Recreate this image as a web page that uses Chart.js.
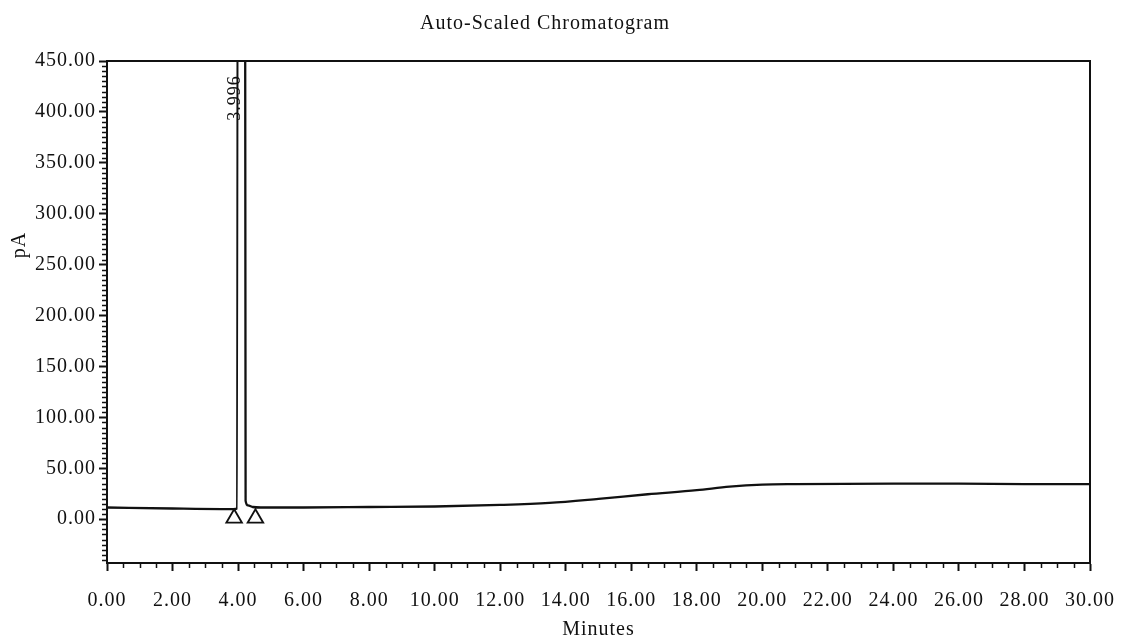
<!DOCTYPE html>
<html>
<head>
<meta charset="utf-8">
<script src="https://cdn.jsdelivr.net/npm/chart.js@4.4.0/dist/chart.umd.min.js"></script>
<style>
  html, body { margin: 0; padding: 0; background: #fff; }
  #wrap { width: 1123px; height: 643px; }
</style>
</head>
<body>
<div id="wrap"><canvas id="myChart" width="1123" height="643"></canvas></div>
<script>
  // signal trace (minutes / pA), peak top is off scale
  var minutes = [0, 2, 3.5, 3.9, 3.96, 4.09, 4.23, 4.3, 4.45, 4.7, 6, 8, 10, 12, 13.5, 15, 16.5, 18, 19, 20, 21, 24, 26, 28, 30];
  var pA = [11.5, 10.5, 10, 10, 10.5, 5000, 18, 13.5, 12, 11.5, 11.5, 12, 12.5, 14, 16, 20, 24.5, 28.5, 32, 34, 34.5, 35, 35, 34.5, 34.5];

  // integration markers
  var markTimes = [3.88, 4.53];
  var markValues = [1, 1];

  // peak annotation
  var peakTimes = [3.996];
  var peakLabels = ['3.996'];

  var xTicks = [0, 2, 4, 6, 8, 10, 12, 14, 16, 18, 20, 22, 24, 26, 28, 30];
  var yTicks = [0, 50, 100, 150, 200, 250, 300, 350, 400, 450];

  var serif = '"Liberation Serif", "Times New Roman", serif';
  var ink = '#111';

  var extras = {
    id: 'extras',
    beforeDraw: function(chart) {
      chart.ctx.letterSpacing = '1px';
    },
    afterDraw: function(chart) {
      var c = chart.ctx, a = chart.chartArea, xs = chart.scales.x, ys = chart.scales.y;
      c.save();
      c.strokeStyle = ink;
      c.lineWidth = 2;
      c.strokeRect(a.left, a.top, a.right - a.left, a.bottom - a.top);

      // minor ticks
      c.lineWidth = 1.5;
      c.beginPath();
      for (var v = -40; v < 450; v += 5) {
        if (v % 50 === 0) continue;
        var py = Math.round(ys.getPixelForValue(v)) + 0.5;
        c.moveTo(a.left - 5, py);
        c.lineTo(a.left, py);
      }
      for (var t = 0.5; t < 30; t += 0.5) {
        if (t % 2 === 0) continue;
        var px = Math.round(xs.getPixelForValue(t)) + 0.5;
        c.moveTo(px, a.bottom);
        c.lineTo(px, a.bottom + 5);
      }
      c.stroke();

      c.fillStyle = ink;
      c.textAlign = 'center';
      c.textBaseline = 'middle';

      // y axis title
      c.font = '20px ' + serif;
      c.save();
      c.translate(20, 245);
      c.rotate(-Math.PI / 2);
      c.fillText('pA', 0, 0);
      c.restore();

      // peak retention time labels
      c.font = '18px ' + serif;
      for (var i = 0; i < peakTimes.length; i++) {
        c.save();
        c.translate(xs.getPixelForValue(peakTimes[i]) - 3, a.top + 37);
        c.rotate(-Math.PI / 2);
        c.fillText(peakLabels[i], 0, 0);
        c.restore();
      }
      c.restore();
    }
  };

  var ctx = document.getElementById('myChart').getContext('2d');
  var chart = new Chart(ctx, {
    type: 'line',
    data: {
      datasets: [{
        type: 'scatter',
        data: markTimes.map(function(t, i) { return { x: t, y: markValues[i] }; }),
        pointStyle: 'triangle',
        pointRadius: 9,
        pointBorderWidth: 1.8,
        pointBorderColor: ink,
        pointBackgroundColor: '#fff',
        showLine: false
      }, {
        data: minutes.map(function(t, i) { return { x: t, y: pA[i] }; }),
        borderColor: ink,
        borderWidth: 2.3,
        pointRadius: 0,
        fill: false,
        cubicInterpolationMode: 'monotone'
      }]
    },
    options: {
      responsive: false,
      animation: false,
      layout: { padding: { top: 0, right: 33, bottom: 0, left: 0 } },
      plugins: {
        legend: { display: false },
        tooltip: { enabled: false },
        title: {
          display: true,
          text: 'Auto-Scaled Chromatogram',
          color: ink,
          font: { family: serif, size: 20, weight: 'normal' },
          padding: { top: 12, bottom: 25 }
        }
      },
      scales: {
        x: {
          type: 'linear',
          min: 0,
          max: 30,
          afterBuildTicks: function(s) { s.ticks = xTicks.map(function(v) { return { value: v }; }); },
          afterFit: function(s) { s.height = 80; s.paddingLeft = 0; s.paddingRight = 0; },
          ticks: {
            callback: function(v) { return v.toFixed(2); },
            color: ink,
            font: { family: serif, size: 20 },
            padding: 18,
            maxRotation: 0,
            autoSkip: false
          },
          grid: { drawOnChartArea: false, drawTicks: true, tickLength: 8, tickWidth: 2, tickColor: ink },
          border: { display: true, width: 2, color: ink },
          title: {
            display: true,
            text: 'Minutes',
            color: ink,
            font: { family: serif, size: 20 },
            padding: { top: 0, bottom: 1 }
          }
        },
        y: {
          min: -43,
          max: 450,
          afterBuildTicks: function(s) { s.ticks = yTicks.map(function(v) { return { value: v }; }); },
          afterFit: function(s) { s.width = 107; s.paddingTop = 0; s.paddingBottom = 0; },
          ticks: {
            callback: function(v) { return v.toFixed(2); },
            color: ink,
            font: { family: serif, size: 20 },
            padding: 3
          },
          grid: { drawOnChartArea: false, drawTicks: true, tickLength: 8, tickWidth: 2, tickColor: ink },
          border: { display: true, width: 2, color: ink }
        }
      }
    },
    plugins: [extras]
  });
</script>
</body>
</html>
